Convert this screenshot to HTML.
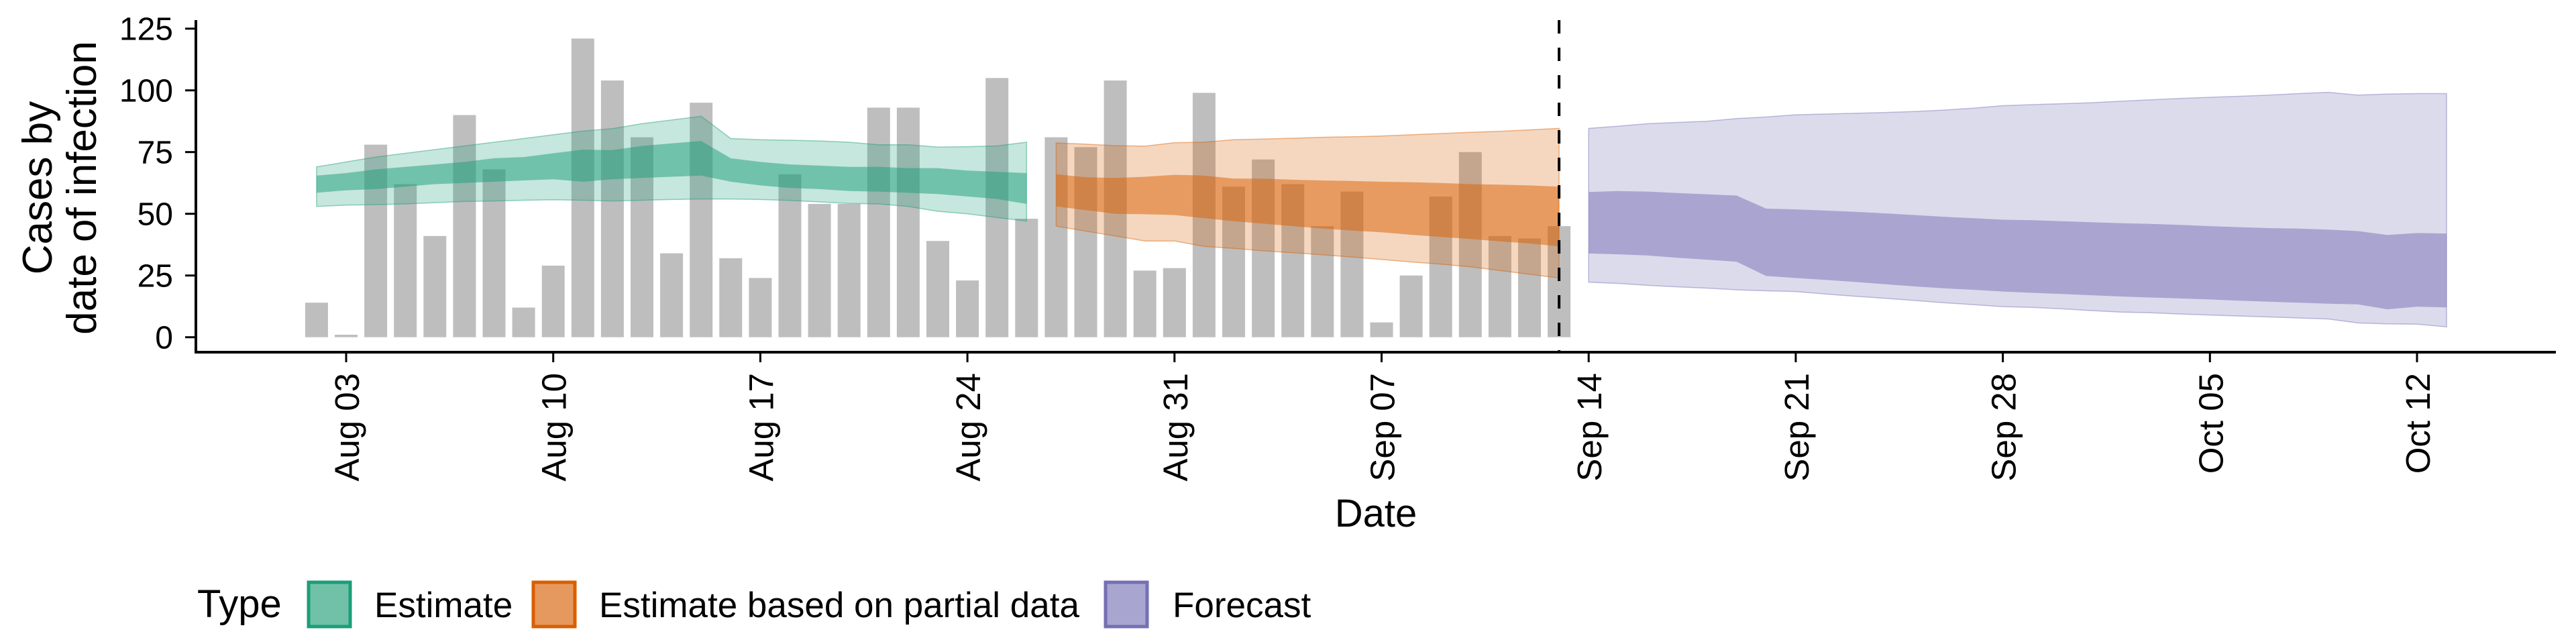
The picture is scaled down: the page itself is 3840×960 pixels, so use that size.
<!DOCTYPE html>
<html><head><meta charset="utf-8"><style>
html,body{margin:0;padding:0;background:#fff;}
svg{display:block;font-family:"Liberation Sans",Arial,sans-serif;}
</style></head><body>
<svg id="chart" width="3840" height="960" viewBox="0 0 3840 960">
<g id="bars"></g>
<g id="bands"></g>
<g id="axes"></g>
<text x="2051" y="785" font-size="58" text-anchor="middle">Date</text>
<g transform="translate(77,280) rotate(-90)">
<text x="0" y="0" font-size="62" text-anchor="middle">Cases by</text>
<text x="0" y="66" font-size="62" text-anchor="middle">date of infection</text>
</g>
<g>
<text x="294" y="920" font-size="58">Type</text>
<rect x="460" y="868" width="62" height="66" fill="#70c1a8" stroke="#1b9e77" stroke-width="5"/>
<text x="558" y="920" font-size="53">Estimate</text>
<rect x="795" y="868" width="62" height="66" fill="#e6995e" stroke="#d95f02" stroke-width="5"/>
<text x="893" y="920" font-size="53">Estimate based on partial data</text>
<rect x="1648" y="868" width="62" height="66" fill="#a8a6d0" stroke="#7570b3" stroke-width="5"/>
<text x="1748" y="920" font-size="53">Forecast</text>
</g>
</svg>
<script>
// day offsets relative to Aug 03
const barStart = -1;
const barValues = [14,1,78,62,41,90,68,12,29,121,104,81,34,95,32,24,66,54,54,93,93,39,23,105,48,81,77,104,27,28,99,61,72,62,45,59,6,25,57,75,41,40,45];
const estStart = -1;
const estUpper90 = [69,71,73,74.5,76,77.5,79,80.5,82,83.5,84.5,86.5,88,89.5,80.5,80,79.8,79.5,79,78,78,77,77.2,77.5,79];
const estUpper50 = [65.5,66.5,68,69,70,71,72.5,73,74.5,76,75.8,77.5,78.5,79.5,72.5,71,70,69.5,69,69,68.5,68.5,67.5,67,66.5];
const estLower50 = [58.5,59.5,60,61,62,62.5,63,63.5,64,63,64,64.5,65,65.5,63,61.5,60.5,60,59.2,59,58.5,58,57,56,54];
const estLower90 = [53,53.5,53.7,54,54.5,55,55.2,55.5,55.7,55.5,55.2,55.5,55.8,56,56,55.8,55.4,54.8,54.2,54,53,51,50,48.5,47];
const partStart = 24;
const partUpper90 = [78.7,78.2,77.6,77.4,78.8,79,80,80.3,80.6,81,81.2,81.5,82,82.5,83,83.4,84,84.6];
const partUpper50 = [66,64.8,64.5,65,65.8,65.5,64.3,64.2,63.8,63.5,63.3,63,62.8,62.5,62,61.8,61.5,61];
const partLower50 = [53,51.5,50,49.8,49.5,48.2,47,46,45,44,43.2,42.5,41.5,40.6,39.8,38.8,38,36.8];
const partLower90 = [45,43,41,39,39,36.8,36,35,34.2,33.4,32.5,31.5,30.5,29.6,28.5,27,25.5,24];
const fcStart = 42;
const fcUpper90 = [84.6,85.5,86.5,87,87.5,88.6,89.2,90.1,90.4,90.7,91,91.4,92,92.8,93.8,94.2,94.6,95,95.6,96.2,96.7,97.2,97.6,98.1,98.7,99.2,98.1,98.5,98.7,98.7];
const fcUpper50 = [58.8,59.2,59,58.4,57.9,57.4,52.1,51.8,51.3,50.8,50.2,49.5,48.8,48.2,47.6,47.4,47,46.6,46.2,45.9,45.5,45,44.6,44.2,44,43.6,43,41.4,42.2,42];
const fcLower50 = [33.9,33.6,33.1,32.2,31.4,30.6,24.8,24,23.2,22.4,21.5,20.6,19.8,19.2,18.5,18,17.5,17,16.5,16.1,15.7,15.3,14.8,14.4,14,13.6,13.3,11.3,12.4,12.1];
const fcLower90 = [22.3,21.8,21,20.4,19.9,19.2,18.8,18.5,17.5,16.6,15.8,14.9,14,13.2,12.4,12.1,11.5,10.8,10.2,9.9,9.4,9,8.6,8.2,7.8,7.4,5.8,5.4,5.3,4.2];
const yTicks = [0,25,50,75,100,125];
const xTickDays = [0,7,14,21,28,35,42,49,56,63,70];
const xTickLabels = ["Aug 03","Aug 10","Aug 17","Aug 24","Aug 31","Sep 07","Sep 14","Sep 21","Sep 28","Oct 05","Oct 12"];
const dataEndDay = 41;

const NS = "http://www.w3.org/2000/svg";
function xs(d){ return 516 + 44.1*d; }
function ys(v){ return 502.7 - 3.68*v; }
function mk(tag, attrs, parent){ const e=document.createElementNS(NS,tag); for(const k in attrs) e.setAttribute(k,attrs[k]); parent.appendChild(e); return e; }

const gBars=document.getElementById('bars');
barValues.forEach((v,i)=>{
  const d=barStart+i;
  const r=mk('rect',{x:xs(d)-17,y:ys(v),width:34,height:ys(0)-ys(v),fill:'#bebebe'},gBars);
  
  
});

const gBands=document.getElementById('bands');
function band(start, up, lo, fill, op, stroke, name){
  let pts=[];
  up.forEach((v,i)=>pts.push(xs(start+i).toFixed(1)+','+ys(v).toFixed(1)));
  for(let i=lo.length-1;i>=0;i--) pts.push(xs(start+i).toFixed(1)+','+ys(lo[i]).toFixed(1));
  const p=mk('polygon',{points:pts.join(' '),fill:fill,'fill-opacity':op,stroke:stroke||'none','stroke-width':1.5,'stroke-opacity':0.45},gBands);
  
  
}
band(estStart,estUpper90,estLower90,'#1b9e77',0.25,'#1b9e77','estimate-band-90');
band(estStart,estUpper50,estLower50,'#1b9e77',0.5,null,'estimate-band-50');
band(partStart,partUpper90,partLower90,'#d95f02',0.25,'#d95f02','partial-band-90');
band(partStart,partUpper50,partLower50,'#d95f02',0.5,null,'partial-band-50');
band(fcStart,fcUpper90,fcLower90,'#7570b3',0.25,'#7570b3','forecast-band-90');
band(fcStart,fcUpper50,fcLower50,'#7570b3',0.5,null,'forecast-band-50');

const gAx=document.getElementById('axes');
const dl=mk('line',{x1:xs(dataEndDay),x2:xs(dataEndDay),y1:30,y2:525,stroke:'#000','stroke-width':4,'stroke-dasharray':'20 21'},gAx);


const ya=mk('line',{x1:292,x2:292,y1:30,y2:527,stroke:'#000','stroke-width':4},gAx);


const xa=mk('line',{x1:290,x2:3810,y1:525,y2:525,stroke:'#000','stroke-width':4},gAx);


yTicks.forEach(v=>{
  const t=mk('line',{x1:276,x2:292,y1:ys(v),y2:ys(v),stroke:'#000','stroke-width':3},gAx);
  
  
  const l=mk('text',{x:258,y:ys(v)+17,'font-size':48,'text-anchor':'end'},gAx);
  l.textContent=v;
  
  
});
xTickDays.forEach((d,i)=>{
  const x=xs(d);
  const t=mk('line',{x1:x,x2:x,y1:525,y2:540,stroke:'#000','stroke-width':3},gAx);
  
  
  const l=mk('text',{x:0,y:0,'font-size':51,'text-anchor':'end',transform:'translate('+(x+19)+',556) rotate(-90)'},gAx);
  l.textContent=xTickLabels[i];
  
  
});
</script>
</body></html>
